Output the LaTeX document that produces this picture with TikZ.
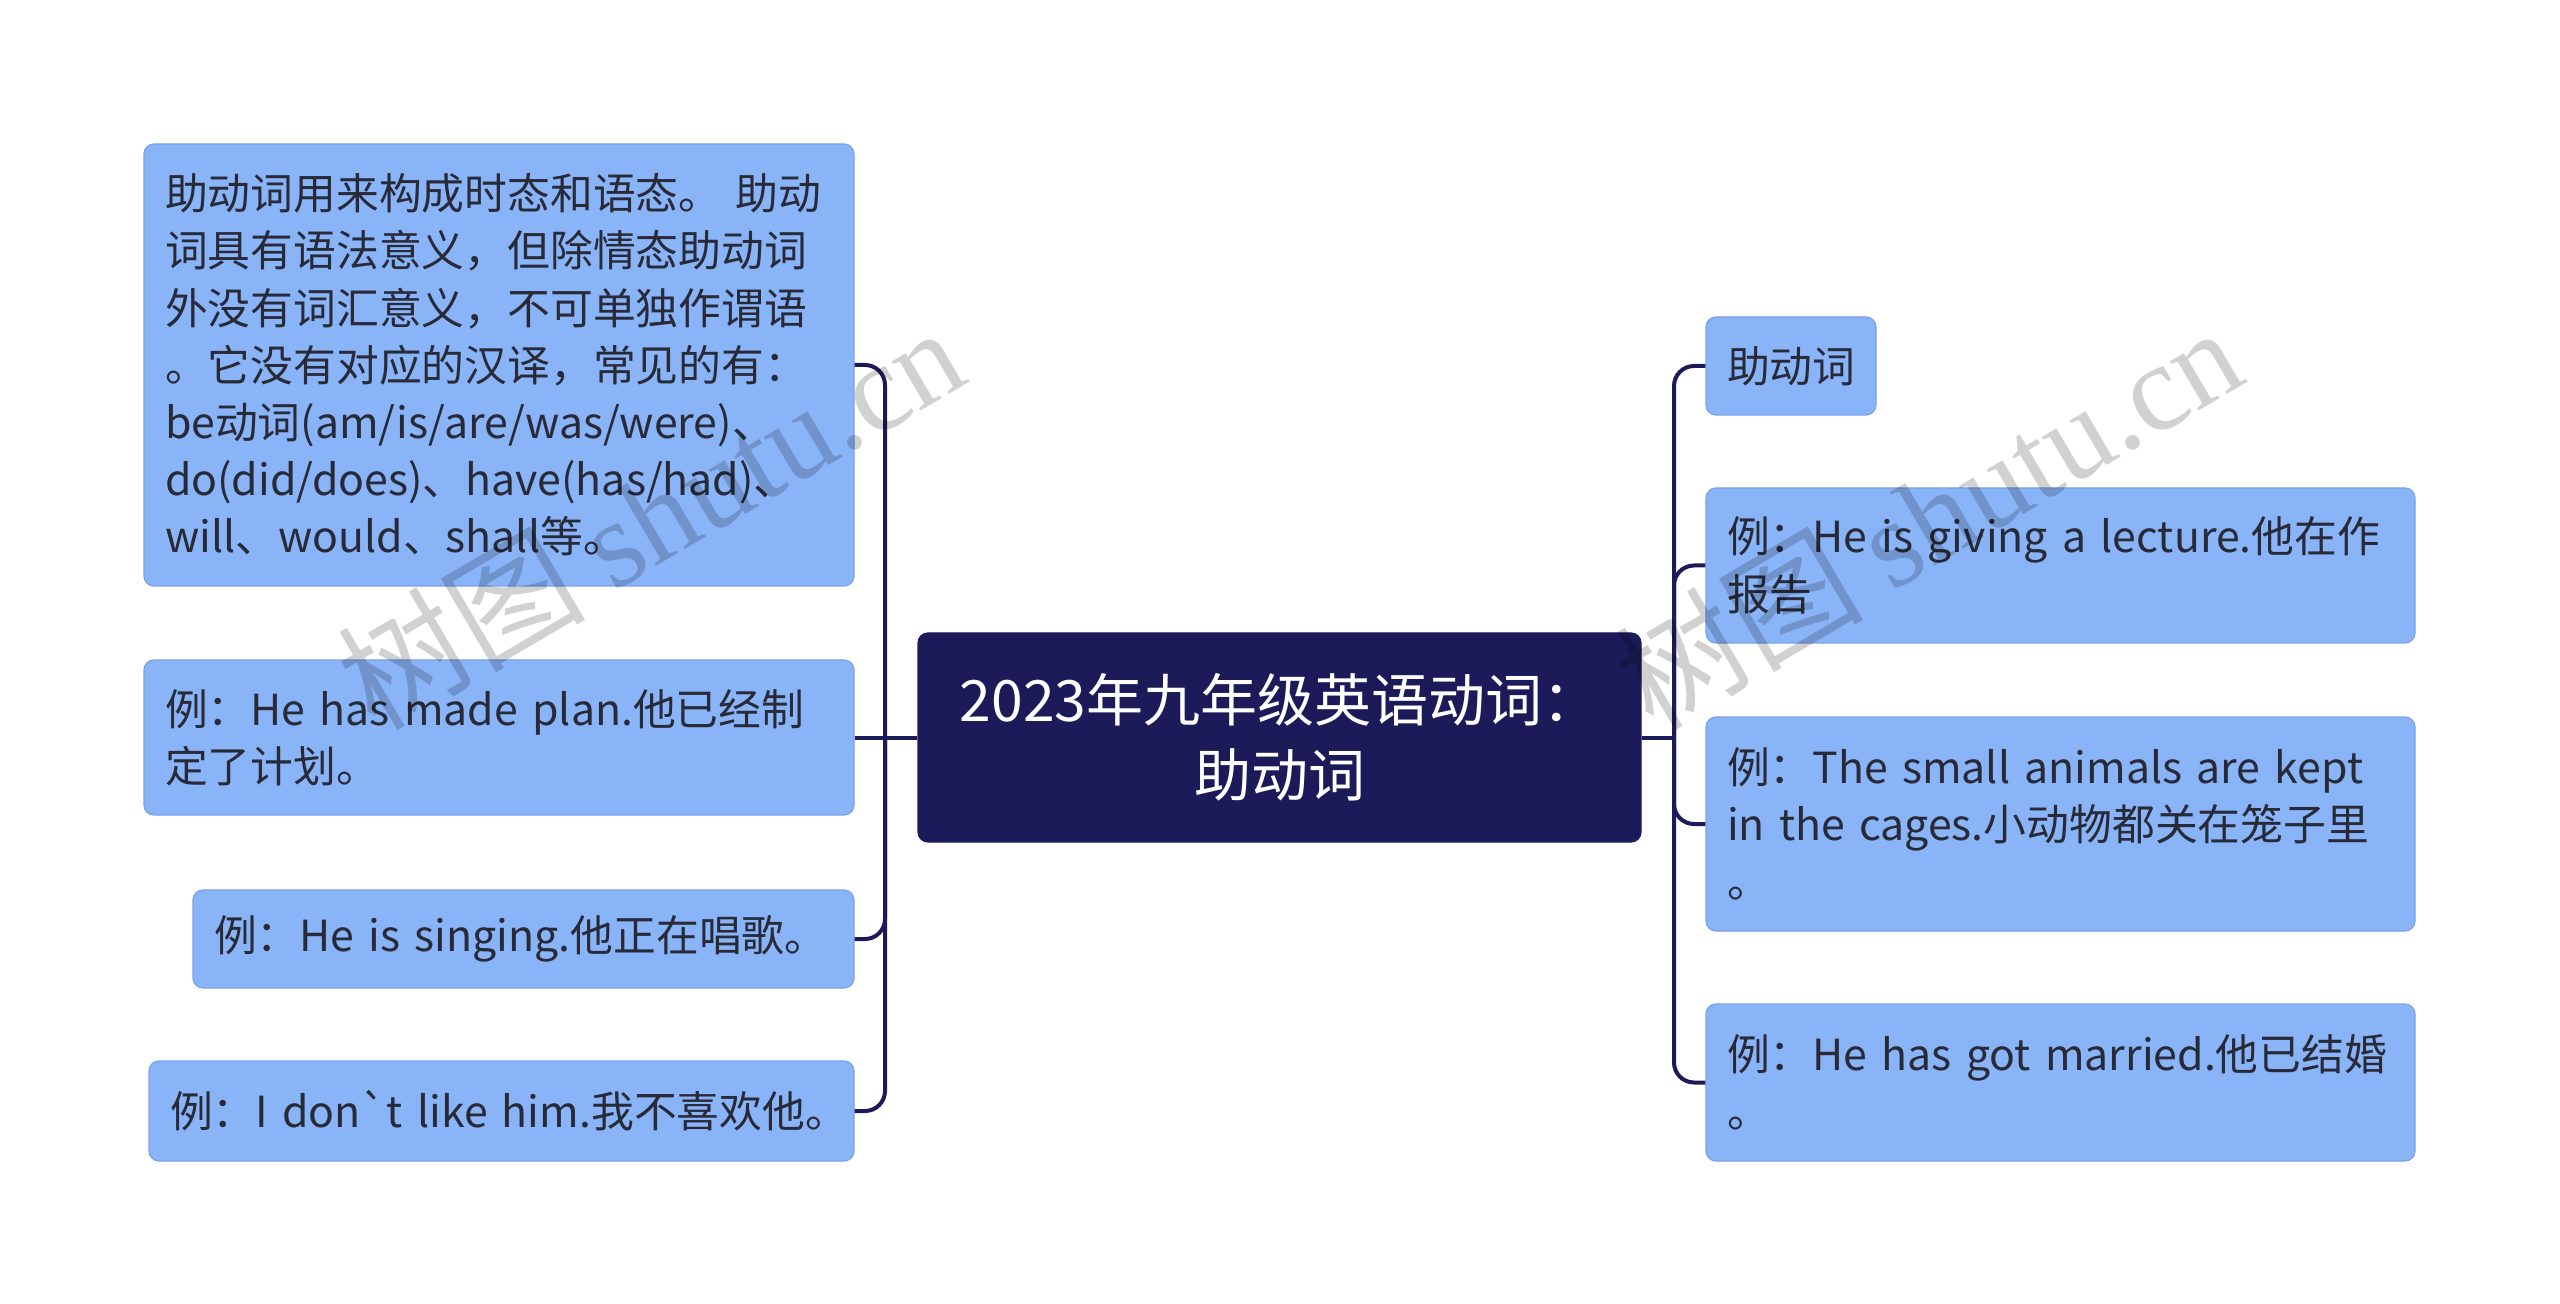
\documentclass[tikz,border=0pt]{standalone}
\usepackage{fontspec}
\setmainfont{Noto Sans CJK SC}[Ligatures=TeXOff]
\newfontfamily\wmserif{Liberation Serif}
\newfontfamily\wmcjk{Noto Sans CJK SC}
\definecolor{boxfill}{RGB}{138,180,248}
\definecolor{boxline}{RGB}{120,162,235}
\definecolor{navy}{RGB}{28,26,88}
\definecolor{txt}{RGB}{40,42,56}
\tikzset{
  leafbox/.style={draw=boxline, line width=0.6pt, fill=boxfill, rounded corners=5pt,
    text=txt, inner xsep=10.5pt, inner ysep=0pt, anchor=center, align=left,
    font=\fontsize{21.4}{28.6}\selectfont},
  rootbox/.style={draw=navy, line width=0.6pt, fill=navy, rounded corners=5pt,
    text=white, inner sep=0pt, anchor=center, align=center,
    font=\fontsize{28.5}{37.5}\selectfont},
  conn/.style={draw=navy, line width=2pt},
  elbow/.style={conn, rounded corners=10pt},
  wmark/.style={text=black, text opacity=0.18, rotate=30.5, anchor=center, inner sep=0pt}
}
\begin{document}
\begin{tikzpicture}[x=0.5pt,y=-0.5pt]
\useasboundingbox (0,0) rectangle (2560,1304);
\fill[white] (0,0) rectangle (2560,1304);

\node[rootbox, minimum width=361.5pt, minimum height=104.5pt] (C) at (1279.5,737.5)
  {2023年九年级英语动词：\\助动词};

\node[leafbox, minimum width=355pt, minimum height=221pt, text width=334pt] (L1) at (499,365)
  {\mbox{助动词用来构成时态和语态。 助动}\\
   \mbox{词具有语法意义，但除情态助动词}\\
   \mbox{外没有词汇意义，不可单独作谓语}\\
   \mbox{。它没有对应的汉译，常见的有：}\\
   \mbox{be动词(am/is/are/was/were)、}\\
   \mbox{do(did/does)、have(has/had)、}\\
   \mbox{will、would、shall等。}};
\node[leafbox, minimum width=355pt, minimum height=77.5pt, text width=334pt] (L2) at (499,737.5)
  {\mbox{例：He has made plan.他已经制}\\
   \mbox{定了计划。}};
\node[leafbox, minimum width=330.5pt, minimum height=49pt, text width=309.5pt] (L3) at (523.5,939)
  {\mbox{例：He is singing.他正在唱歌。}};
\node[leafbox, minimum width=352.5pt, minimum height=50pt, text width=331.5pt] (L4) at (501.5,1111)
  {\mbox{例：I don`t like him.我不喜欢他。}};

\node[leafbox, minimum width=85pt, minimum height=49pt, text width=64pt] (R1) at (1791,366)
  {\mbox{助动词}};
\node[leafbox, minimum width=354.5pt, minimum height=77.5pt, text width=333.5pt] (R2) at (2060.5,565.5)
  {\mbox{例：He is giving a lecture.他在作}\\
   \mbox{报告}};
\node[leafbox, minimum width=354.5pt, minimum height=107pt, text width=333.5pt] (R3) at (2060.5,824)
  {\mbox{例：The small animals are kept}\\
   \mbox{in the cages.小动物都关在笼子里}\\
   \mbox{。}};
\node[leafbox, minimum width=354.5pt, minimum height=78.5pt, text width=333.5pt] (R4) at (2060.5,1082.5)
  {\mbox{例：He has got married.他已结婚}\\
   \mbox{。}};

\coordinate (lj) at (885,737.5);
\coordinate (rj) at (1674,737.5);
\draw[conn] (C.west) -- (L2.east);
\draw[elbow] (lj) |- (L1.east);
\draw[elbow] (lj) |- (L3.east);
\draw[elbow] (lj) |- (L4.east);
\draw[conn] (C.east) -- (rj);
\draw[elbow] (rj) |- (R1.west);
\draw[elbow] (rj) |- (R2.west);
\draw[elbow] (rj) |- (R3.west);
\draw[elbow] (rj) |- (R4.west);

\node[wmark] (W1) at (650,516) {\fontsize{62}{62}\selectfont{\wmcjk 树图} {\wmserif shutu.cn}};
\node[wmark] (W2) at (1928,516) {\fontsize{62}{62}\selectfont{\wmcjk 树图} {\wmserif shutu.cn}};
\end{tikzpicture}
\end{document}
